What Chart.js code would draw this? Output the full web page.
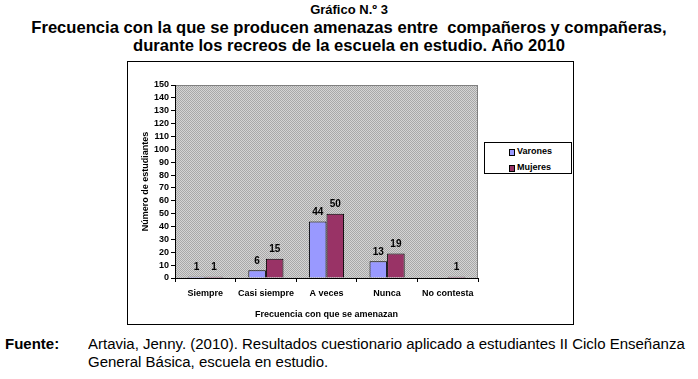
<!DOCTYPE html>
<html lang="es">
<head>
  <meta charset="UTF-8">
  <title>Gráfico N.º 3</title>
  <script src="https://cdn.jsdelivr.net/npm/chart.js"></script>
  <style>
    body { margin: 0; width: 698px; height: 379px; background: #fff; font-family: "Liberation Sans", Arial, sans-serif; position: relative; overflow: hidden; }
    .t { position: absolute; left: 0; width: 698px; text-align: center; font-weight: bold; color: #000; white-space: pre; }
    #box { position: absolute; left: 127px; top: 61px; width: 445px; height: 262px; border: 1px solid #000; }
    #legend { position: absolute; left: 484px; top: 142px; width: 86px; height: 30px; border: 1px solid #000; background: #fff; font-size: 9px; font-weight: bold; }
    #legend div { position: absolute; left: 32px; line-height: 11px; }
    #legend span { position: absolute; left: -8px; top: 3px; width: 4px; height: 5px; border: 1px solid #000; }
    .src { position: absolute; font-size: 15px; color: #000; white-space: pre; transform-origin: 0 0; transform: scaleY(0.92); }
  </style>
</head>
<body>
  <div class="t" style="top:2px;font-size:13px;">Gráfico N.º 3</div>
  <div class="t" style="top:18px;font-size:16.6px;">Frecuencia con la que se producen amenazas entre  compañeros y compañeras,</div>
  <div class="t" style="top:36px;font-size:16.6px;">durante los recreos de la escuela en estudio. Año 2010</div>

  <div id="box"><canvas id="chart" width="445" height="262"></canvas></div>
  <div id="legend"></div>

  <div class="src" style="left:5px;top:336px;font-weight:bold;">Fuente:</div>
  <div class="src" style="left:88px;top:336px;">Artavia, Jenny. (2010). Resultados cuestionario aplicado a estudiantes II Ciclo Enseñanza</div>
  <div class="src" style="left:88px;top:354px;">General Básica, escuela en estudio.</div>

  <script>
    const categories = ['Siempre', 'Casi siempre', 'A veces', 'Nunca', 'No contesta'];
    const varones = [1, 6, 44, 13, 0];
    const mujeres = [1, 15, 50, 19, 1];
    const seriesNames = ['Varones', 'Mujeres'];
    const seriesColors = ['#9999FF', '#993366'];
    const yTicks = { min: 0, max: 150, step: 10 };

    const font = { family: '"Liberation Sans", Arial, sans-serif', size: 9, weight: 'bold' };

    // legend (html)
    const legend = document.getElementById('legend');
    seriesNames.forEach((name, i) => {
      const d = document.createElement('div');
      d.style.top = (3 + i * 16) + 'px';
      d.innerHTML = '<span style="background:' + seriesColors[i] + '"></span>' + name;
      legend.appendChild(d);
    });

    const plotBg = {
      id: 'plotBg',
      beforeDraw(chart) {
        const a = chart.chartArea, c = chart.ctx;
        // dithered grey like the old office fill
        const p = document.createElement('canvas');
        p.width = 2; p.height = 2;
        const pc = p.getContext('2d');
        pc.fillStyle = '#D4D4D4'; pc.fillRect(0, 0, 2, 2);
        pc.fillStyle = '#A8A8A8'; pc.fillRect(0, 0, 1, 1); pc.fillRect(1, 1, 1, 1);
        c.save();
        c.fillStyle = c.createPattern(p, 'repeat');
        c.fillRect(a.left, a.top, a.right - a.left, a.bottom - a.top);
        c.strokeStyle = '#808080';
        c.lineWidth = 1;
        c.strokeRect(a.left + 0.5, a.top + 0.5, a.right - a.left - 1, a.bottom - a.top);
        c.restore();
      }
    };

    const valueLabels = {
      id: 'valueLabels',
      afterDatasetsDraw(chart) {
        const c = chart.ctx;
        c.save();
        c.font = 'bold 10px "Liberation Sans", Arial, sans-serif';
        c.fillStyle = '#000';
        c.textAlign = 'center';
        c.textBaseline = 'bottom';
        chart.data.datasets.forEach((ds, i) => {
          chart.getDatasetMeta(i).data.forEach((bar, j) => {
            if (!ds.data[j]) return;
            c.fillText(ds.data[j], bar.x, bar.y - 4);
          });
        });
        c.restore();
      }
    };

    new Chart(document.getElementById('chart'), {
      type: 'bar',
      data: {
        labels: categories,
        datasets: [
          { label: seriesNames[0], data: varones, backgroundColor: seriesColors[0], borderColor: '#000', borderWidth: 1 },
          { label: seriesNames[1], data: mujeres, backgroundColor: seriesColors[1], borderColor: '#000', borderWidth: 1 }
        ]
      },
      options: {
        responsive: false,
        animation: false,
        categoryPercentage: 0.58,
        barPercentage: 1,
        layout: { padding: { left: 0, top: 23, right: 95, bottom: 0 } },
        plugins: { legend: { display: false }, tooltip: { enabled: false } },
        scales: {
          x: {
            grid: { drawOnChartArea: false, color: '#000', tickLength: 4, offset: true },
            border: { color: '#000' },
            ticks: { color: '#000', font: font, padding: 6, maxRotation: 0, autoSkip: false },
            title: { display: true, text: 'Frecuencia con que se amenazan', color: '#000', font: font, padding: { top: 3 } },
            afterFit(s) { s.height = 46; }
          },
          y: {
            min: yTicks.min, max: yTicks.max,
            grid: { drawOnChartArea: false, color: '#000', tickLength: 4 },
            border: { color: '#000' },
            ticks: { stepSize: yTicks.step, color: '#000', font: font, padding: 2, autoSkip: false },
            title: { display: true, text: 'Número de estudiantes', color: '#000', font: font, padding: { top: 12, bottom: 4 } },
            afterFit(s) { s.width = 47; }
          }
        }
      },
      plugins: [plotBg, valueLabels]
    });
  </script>
</body>
</html>
